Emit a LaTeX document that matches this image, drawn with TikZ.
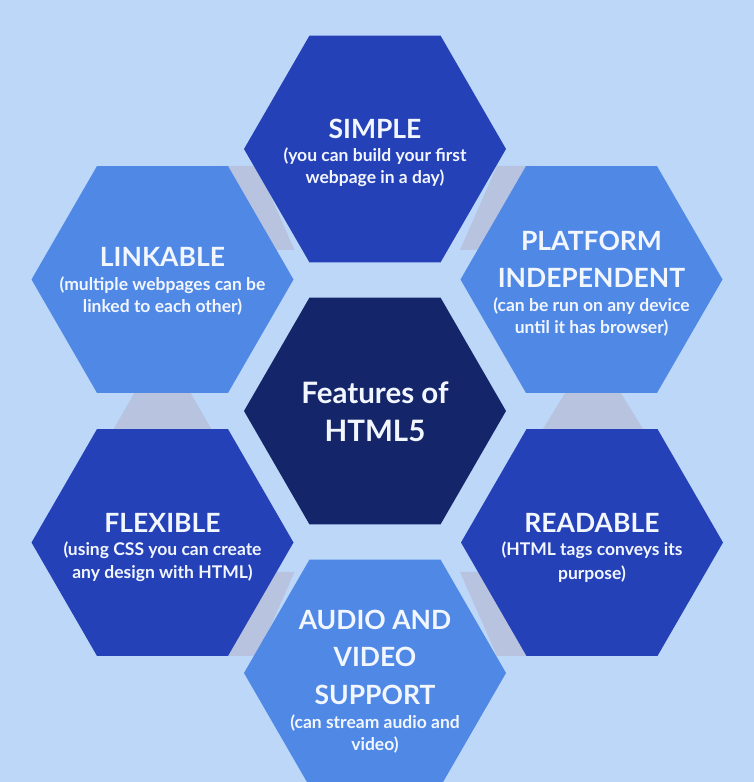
\documentclass[tikz,border=0pt]{standalone}
\usepackage{fontspec}
\setmainfont{Lato}
\usetikzlibrary{shapes.geometric}
\definecolor{bgblue}{HTML}{BDD7F9}
\definecolor{graypiece}{HTML}{B8C3E0}
\definecolor{darkhex}{HTML}{2541B8}
\definecolor{midhex}{HTML}{5088E6}
\definecolor{navyhex}{HTML}{14256A}
\definecolor{txt}{HTML}{F2F6FF}
\tikzset{
  hexbox/.style={regular polygon, regular polygon sides=6, minimum size=262pt, inner sep=0pt, outer sep=0pt, draw=none},
  ttl/.style={text=txt, font=\fontsize{26.5}{30}\selectfont\bfseries, inner sep=0pt},
  bigttl/.style={text=txt, font=\fontsize{29.5}{34}\selectfont\bfseries, inner sep=0pt},
  sub/.style={text=txt, font=\fontsize{17.5}{21}\selectfont\bfseries, inner sep=0pt},
  conn/.style={fill=graypiece, draw=none}
}
\begin{document}
\begin{tikzpicture}[x=1pt,y=1pt]
\fill[bgblue] (0,0) rectangle (754,782);
\useasboundingbox (0,0) rectangle (754,782);
% gray connector pieces (y = 782 - image y)
\fill[conn] (497,616) -- (540,616) -- (490,532) -- (460,532) -- cycle;
\fill[conn] (257.5,616) -- (214.5,616) -- (264.5,532) -- (294.5,532) -- cycle;
\fill[conn] (257.5,126) -- (214.5,126) -- (264.5,210) -- (294.5,210) -- cycle;
\fill[conn] (497,126) -- (540,126) -- (490,210) -- (460,210) -- cycle;
\fill[conn] (570,397) -- (616,397) -- (648,345) -- (538,345) -- cycle;
\fill[conn] (139,397) -- (186,397) -- (216,345) -- (109,345) -- cycle;
% hexagons
\node[hexbox, fill=darkhex] (simple) at (375,633) {};
\node[hexbox, fill=midhex] (platform) at (591.5,502.5) {};
\node[hexbox, fill=midhex] (linkable) at (162.5,502.5) {};
\node[hexbox, fill=navyhex] (centre) at (375,371) {};
\node[hexbox, fill=darkhex] (flexible) at (162.5,239.5) {};
\node[hexbox, fill=darkhex] (readable) at (592,239.5) {};
\node[hexbox, fill=midhex] (audio) at (375,109) {};
% texts
\node[ttl] (simpleT) at (375,653.3) {SIMPLE};
\node[sub] (simpleS1) at (375,626) {(you can build your first};
\node[sub] (simpleS2) at (375,604) {webpage in a day)};
\node[ttl] (platformT1) at (591.5,541.3) {PLATFORM};
\node[ttl] (platformT2) at (591.5,504) {INDEPENDENT};
\node[sub] (platformS1) at (591.5,476) {(can be run on any device};
\node[sub] (platformS2) at (591.5,454) {until it has browser)};
\node[ttl] (linkableT) at (162.5,525) {LINKABLE};
\node[sub] (linkableS1) at (162.5,497) {(multiple webpages can be};
\node[sub] (linkableS2) at (162.5,475) {linked to each other)};
\node[bigttl] (centreT1) at (375,389) {Features of};
\node[bigttl] (centreT2) at (375,351) {HTML5};
\node[ttl] (flexibleT) at (162.5,259) {FLEXIBLE};
\node[sub] (flexibleS1) at (162.5,232) {(using CSS you can create};
\node[sub] (flexibleS2) at (162.5,209) {any design with HTML)};
\node[ttl] (readableT) at (592,259) {READABLE};
\node[sub] (readableS1) at (592,232) {(HTML tags conveys its};
\node[sub] (readableS2) at (592,208) {purpose)};
\node[ttl] (audioT1) at (375,162) {AUDIO AND};
\node[ttl] (audioT2) at (375,125) {VIDEO};
\node[ttl] (audioT3) at (375,87) {SUPPORT};
\node[sub] (audioS1) at (375,59) {(can stream audio and};
\node[sub] (audioS2) at (375,37) {video)};
\end{tikzpicture}
\end{document}
